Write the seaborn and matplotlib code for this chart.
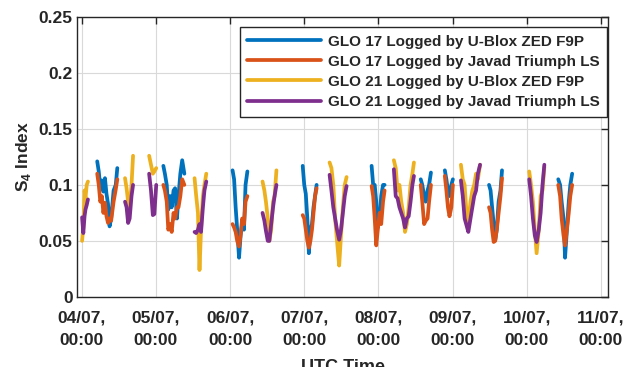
import pandas as pd
import seaborn as sns
import matplotlib.pyplot as plt

# S4 index per satellite pass, hours since 04/07 00:00 UTC
hours_glo17 = [
    [5.0, 5.5, 6.0, 6.5, 7.0, 7.5, 8.0, 8.5, 9.0, 9.5, 10.3, 11.0, 11.5],
    [26.4, 26.9, 27.5, 28.0, 28.6, 29.1, 29.7, 30.2, 30.8, 31.3, 31.9, 32.5, 33.2],
    [48.8, 49.3, 49.8, 50.3, 50.9, 51.4, 51.9, 52.5, 53.0, 53.6],
    [71.5, 72.0, 72.5, 73.0, 73.5, 74.0, 74.5, 75.0, 75.5, 76.0],
    [93.8, 94.3, 94.8, 95.3, 95.8, 96.4, 96.9, 97.5, 98.0],
    [109.7, 110.2, 110.8, 111.3, 111.9, 112.4, 113.0],
    [117.5, 118.0, 118.5, 119.0, 119.6, 120.1],
    [131.8, 132.3, 132.8, 133.3, 133.8, 134.3, 134.9, 135.5, 136.0],
    [154.2, 154.8, 155.3, 155.9, 156.4, 157.0, 157.6, 158.1, 158.7],
]
s4_glo17_ublox = [
    [0.121, 0.112, 0.098, 0.104, 0.094, 0.106, 0.092, 0.083, 0.063, 0.070, 0.095, 0.100, 0.115],
    [0.117, 0.110, 0.100, 0.078, 0.090, 0.080, 0.095, 0.097, 0.070, 0.090, 0.110, 0.122, 0.110],
    [0.113, 0.105, 0.080, 0.060, 0.035, 0.055, 0.065, 0.060, 0.100, 0.112],
    [0.117, 0.100, 0.092, 0.070, 0.039, 0.060, 0.065, 0.080, 0.090, 0.100],
    [0.117, 0.100, 0.100, 0.085, 0.062, 0.070, 0.090, 0.100, 0.100],
    [0.105, 0.100, 0.090, 0.085, 0.095, 0.100, 0.111],
    [0.113, 0.105, 0.095, 0.090, 0.100, 0.105],
    [0.100, 0.095, 0.080, 0.065, 0.051, 0.060, 0.085, 0.095, 0.113],
    [0.105, 0.100, 0.085, 0.070, 0.035, 0.060, 0.085, 0.100, 0.110],
]
s4_glo17_javad = [
    [0.110, 0.100, 0.085, 0.090, 0.075, 0.084, 0.072, 0.066, 0.070, 0.068, 0.085, 0.096, 0.105],
    [0.100, 0.095, 0.085, 0.060, 0.065, 0.058, 0.075, 0.070, 0.080, 0.080, 0.090, 0.105, 0.100],
    [0.065, 0.062, 0.058, 0.050, 0.045, 0.055, 0.070, 0.065, 0.085, 0.090],
    [0.073, 0.070, 0.060, 0.050, 0.044, 0.050, 0.060, 0.075, 0.090, 0.097],
    [0.099, 0.090, 0.070, 0.046, 0.060, 0.075, 0.065, 0.085, 0.095],
    [0.100, 0.085, 0.065, 0.068, 0.070, 0.085, 0.100],
    [0.108, 0.095, 0.080, 0.072, 0.080, 0.100],
    [0.080, 0.075, 0.060, 0.049, 0.050, 0.060, 0.075, 0.090, 0.106],
    [0.100, 0.090, 0.070, 0.055, 0.046, 0.060, 0.075, 0.090, 0.100],
]

hours_glo21 = [
    [0.1, 0.5, 0.9, 1.2, 1.6, 2.0],
    [14.0, 14.5, 15.0, 15.5, 16.1, 16.6],
    [21.8, 22.4, 23.0, 23.5, 24.1],
    [36.5, 37.0, 37.6, 38.1, 38.6, 39.2, 39.7, 40.3],
    [58.5, 59.1, 59.6, 60.2, 60.7, 61.3, 61.9, 62.4, 63.0],
    [80.2, 80.8, 81.4, 82.0, 82.6, 83.3, 83.9, 84.5, 85.1, 85.7],
    [101.0, 101.6, 102.2, 102.8, 103.4, 104.0, 104.6, 105.2, 105.8, 106.4, 107.0, 107.5],
    [122.7, 123.3, 123.9, 124.5, 125.1, 125.8, 126.4, 127.0, 127.6, 128.2, 128.9],
    [144.8, 145.4, 146.0, 146.6, 147.2, 147.9, 148.5, 149.1, 149.7],
]
s4_glo21_ublox = [
    [0.050, 0.062, 0.095, 0.088, 0.100, 0.103],
    [0.106, 0.097, 0.085, 0.080, 0.100, 0.126],
    [0.126, 0.118, 0.110, 0.112, 0.115],
    [0.106, 0.091, 0.075, 0.024, 0.060, 0.090, 0.100, 0.110],
    [0.103, 0.095, 0.085, 0.070, 0.050, 0.060, 0.085, 0.090, 0.113],
    [0.120, 0.115, 0.100, 0.070, 0.050, 0.028, 0.055, 0.080, 0.100, 0.107],
    [0.122, 0.115, 0.095, 0.100, 0.085, 0.075, 0.058, 0.065, 0.080, 0.100, 0.110, 0.120],
    [0.118, 0.105, 0.100, 0.075, 0.065, 0.085, 0.095, 0.100, 0.110, 0.105, 0.118],
    [0.112, 0.100, 0.085, 0.060, 0.039, 0.060, 0.090, 0.095, 0.116],
]
s4_glo21_javad = [
    [0.071, 0.057, 0.072, 0.078, 0.082, 0.087],
    [0.085, 0.080, 0.066, 0.070, 0.090, 0.100],
    [0.110, 0.095, 0.073, 0.074, 0.100],
    [0.058, 0.057, 0.060, 0.065, 0.058, 0.080, 0.095, 0.103],
    [0.075, 0.068, 0.059, 0.050, 0.050, 0.065, 0.080, 0.090, 0.100],
    [0.109, 0.095, 0.080, 0.070, 0.060, 0.051, 0.060, 0.075, 0.090, 0.099],
    [0.114, 0.090, 0.088, 0.080, 0.075, 0.070, 0.062, 0.070, 0.072, 0.085, 0.100, 0.108],
    [0.104, 0.090, 0.070, 0.064, 0.058, 0.070, 0.080, 0.090, 0.095, 0.110, 0.118],
    [0.105, 0.090, 0.070, 0.055, 0.049, 0.060, 0.075, 0.100, 0.118],
]

series_names = [
    "GLO 17 Logged by U-Blox ZED F9P",
    "GLO 17 Logged by Javad Triumph LS",
    "GLO 21 Logged by U-Blox ZED F9P",
    "GLO 21 Logged by Javad Triumph LS",
]
colors = ["#0072BD", "#D95319", "#EDB120", "#7E2F8E"]

day_ticks = ["2021-07-04", "2021-07-05", "2021-07-06", "2021-07-07",
             "2021-07-08", "2021-07-09", "2021-07-10", "2021-07-11"]
day_labels = ["04/07,\n00:00", "05/07,\n00:00", "06/07,\n00:00", "07/07,\n00:00",
              "08/07,\n00:00", "09/07,\n00:00", "10/07,\n00:00", "11/07,\n00:00"]
y_ticks = [0, 0.05, 0.1, 0.15, 0.2, 0.25]
y_labels = ["0", "0.05", "0.1", "0.15", "0.2", "0.25"]

start = pd.Timestamp("2021-07-04")

# build long table
rows = []
all_data = [(series_names[0], hours_glo17, s4_glo17_ublox),
            (series_names[1], hours_glo17, s4_glo17_javad),
            (series_names[2], hours_glo21, s4_glo21_ublox),
            (series_names[3], hours_glo21, s4_glo21_javad)]
for name, hours, vals in all_data:
    for p, (hh, vv) in enumerate(zip(hours, vals)):
        for h, v in zip(hh, vv):
            rows.append([name, p, start + pd.Timedelta(hours=h), v])
df = pd.DataFrame(rows, columns=["series", "pass", "time", "s4"])

sns.set_style("white")
plt.rcParams['font.family'] = ['Liberation Sans', 'DejaVu Sans']
plt.rcParams['font.weight'] = 'bold'
plt.rcParams['mathtext.fontset'] = 'custom'
plt.rcParams['mathtext.rm'] = 'Liberation Sans:bold'
plt.rcParams['mathtext.bf'] = 'Liberation Sans:bold'

fig = plt.figure(figsize=(6.4, 3.67), dpi=100)
ax = fig.add_axes([0.121, 0.191, 0.829, 0.763])

sns.lineplot(data=df, x="time", y="s4", hue="series", units="pass",
             estimator=None, sort=False, palette=colors, hue_order=series_names,
             linewidth=2.7, ax=ax)

ax.set_xlim(start - pd.Timedelta(hours=1.4), start + pd.Timedelta(hours=170.3))
ax.set_ylim(0, 0.25)
ax.set_xticks(pd.to_datetime(day_ticks), day_labels)
ax.set_yticks(y_ticks, y_labels)
for lab in ax.get_xticklabels():
    lab.set_linespacing(1.6)
ax.tick_params(axis='both', labelsize=12.5, direction='in', length=5, width=1,
               color='#262626', labelcolor='#262626', top=True, right=True,
               pad=3.5)
ax.tick_params(axis='x', pad=10)
ax.grid(True, color='#d9d9d9', linewidth=0.8)
for sp in ax.spines.values():
    sp.set_color('#262626')
    sp.set_linewidth(1.0)

ax.set_ylabel(r"S$_{4}$ Index", fontsize=12.5, fontweight='bold', color='#262626', labelpad=4)
ax.set_xlabel("UTC Time", fontsize=13, fontweight='bold', color='#262626', labelpad=8)

sns.move_legend(ax, "upper right", bbox_to_anchor=(0.998, 0.964), borderaxespad=0,
                title=None, frameon=True, fancybox=False, fontsize=11,
                handlelength=4.8, handletextpad=0.45, labelspacing=0.4,
                borderpad=0.5, edgecolor='#262626', framealpha=1)
leg = ax.get_legend()
leg.get_frame().set_linewidth(1.0)
for line in leg.get_lines():
    line.set_linewidth(2.7)
for t in leg.get_texts():
    t.set_fontweight('bold')

fig.savefig("out.png", dpi=100)
